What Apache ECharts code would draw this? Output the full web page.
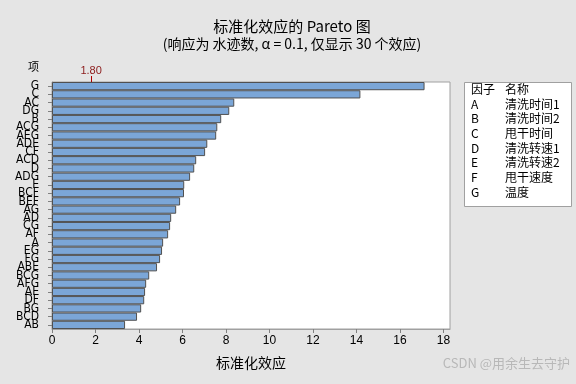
<!DOCTYPE html>
<html><head><meta charset="utf-8">
<script src="https://cdn.jsdelivr.net/npm/echarts@6/dist/echarts.min.js"></script>
<style>html,body{margin:0;padding:0;background:#e5e5e5;}#c{width:576px;height:384px;}</style>
</head><body><div id="c"></div>
<script>
const terms = ['G','C','AC','DG','B','ACG','AEG','ADE','CF','ACD','D','ADG','E','BCF','BEF','AG','AD','CG','AF','A','EG','FG','ABE','BCG','AFG','AE','DF','BG','BCD','AB'];
const effects = [17.13,14.18,8.38,8.15,7.78,7.60,7.55,7.14,7.04,6.63,6.54,6.35,6.08,6.07,5.89,5.71,5.48,5.43,5.34,5.11,5.06,4.97,4.83,4.47,4.33,4.28,4.24,4.10,3.91,3.36];
const refValue = 1.80;
const xTicks = [0,2,4,6,8,10,12,14,16,18];
const factorCodes = ['A','B','C','D','E','F','G'];
const factorNames = ['清洗时间1','清洗时间2','甩干时间','清洗转速1','清洗转速2','甩干速度','温度'];

const FONT = '"Noto Sans CJK SC","Noto Sans",sans-serif';
const chart = echarts.init(document.getElementById('c'));

const graphics = [
  {type:'text', left:28, top:61, style:{text:'项', font:'11px '+FONT, fill:'#000'}},
  {type:'rect', shape:{x:464.5,y:82.5,width:107,height:124}, style:{fill:'#fff', stroke:'#a0a0a0', lineWidth:1}},
  {type:'text', x:471, y:83, style:{text:'因子', font:'12px '+FONT, fill:'#000'}},
  {type:'text', x:505, y:83, style:{text:'名称', font:'12px '+FONT, fill:'#000'}},
  {type:'text', right:6, top:357, style:{text:'CSDN @用余生去守护', font:'13px '+FONT, fill:'#b8b8b8'}}
];
factorCodes.forEach((c,i)=>{
  graphics.push({type:'text', x:471, y:98+i*14.7, style:{text:c, font:'12px '+FONT, fill:'#000'}});
  graphics.push({type:'text', x:505, y:98+i*14.7, style:{text:factorNames[i], font:'12px '+FONT, fill:'#000'}});
});

chart.setOption({
  backgroundColor:'#e5e5e5',
  animation:false,
  title:{
    text:'标准化效应的 Pareto 图',
    subtext:'(响应为 水迹数, α = 0.1, 仅显示 30 个效应)',
    left:287, textAlign:'center', top:14, itemGap:3,
    textStyle:{fontFamily:FONT, fontSize:15, fontWeight:'normal', color:'#000'},
    subtextStyle:{fontFamily:FONT, fontSize:14, color:'#000'}
  },
  grid:{left:52, right:126, top:82, bottom:55, show:true, backgroundColor:'#fff', borderColor:'#a0a0a0', borderWidth:1},
  xAxis:[{
    type:'value', min:0, max:18.3, interval:2,
    name:'标准化效应', nameLocation:'middle', nameGap:27,
    nameTextStyle:{fontFamily:FONT, fontSize:14, color:'#000'},
    axisLine:{show:true, lineStyle:{color:'#a0a0a0'}},
    axisTick:{show:true, length:4, lineStyle:{color:'#808080'}},
    axisLabel:{fontFamily:'"Liberation Sans",sans-serif', fontSize:12, color:'#000', margin:6, showMaxLabel:false,
      formatter:v=> xTicks.includes(v) ? String(v) : ''},
    splitLine:{show:false}
  },{
    type:'value', position:'top', min:0, max:18.3,
    axisLine:{show:false},
    axisTick:{show:true, customValues:[refValue], length:6, lineStyle:{color:'#b00000'}},
    axisLabel:{show:true, customValues:[refValue], fontFamily:'"Liberation Sans",sans-serif', fontSize:11, color:'#8b1a1a', margin:6,
      formatter:v=>v.toFixed(2)},
    splitLine:{show:false}
  }],
  yAxis:{
    type:'category', data:terms, inverse:true,
    axisLine:{show:true, lineStyle:{color:'#a0a0a0'}},
    axisTick:{show:true, length:4, alignWithLabel:true, lineStyle:{color:'#808080'}},
    axisLabel:{interval:0, fontFamily:'"Liberation Sans Narrow","DejaVu Sans Condensed","Liberation Sans",sans-serif', fontSize:12, color:'#000', margin:13},
    splitLine:{show:false}
  },
  series:[{
    type:'bar', data:effects, xAxisIndex:0,
    barCategoryGap:'0%',
    itemStyle:{color:'#7ba6d7', borderColor:'#505050', borderWidth:1}
  }],
  graphic:graphics
});
</script></body></html>
